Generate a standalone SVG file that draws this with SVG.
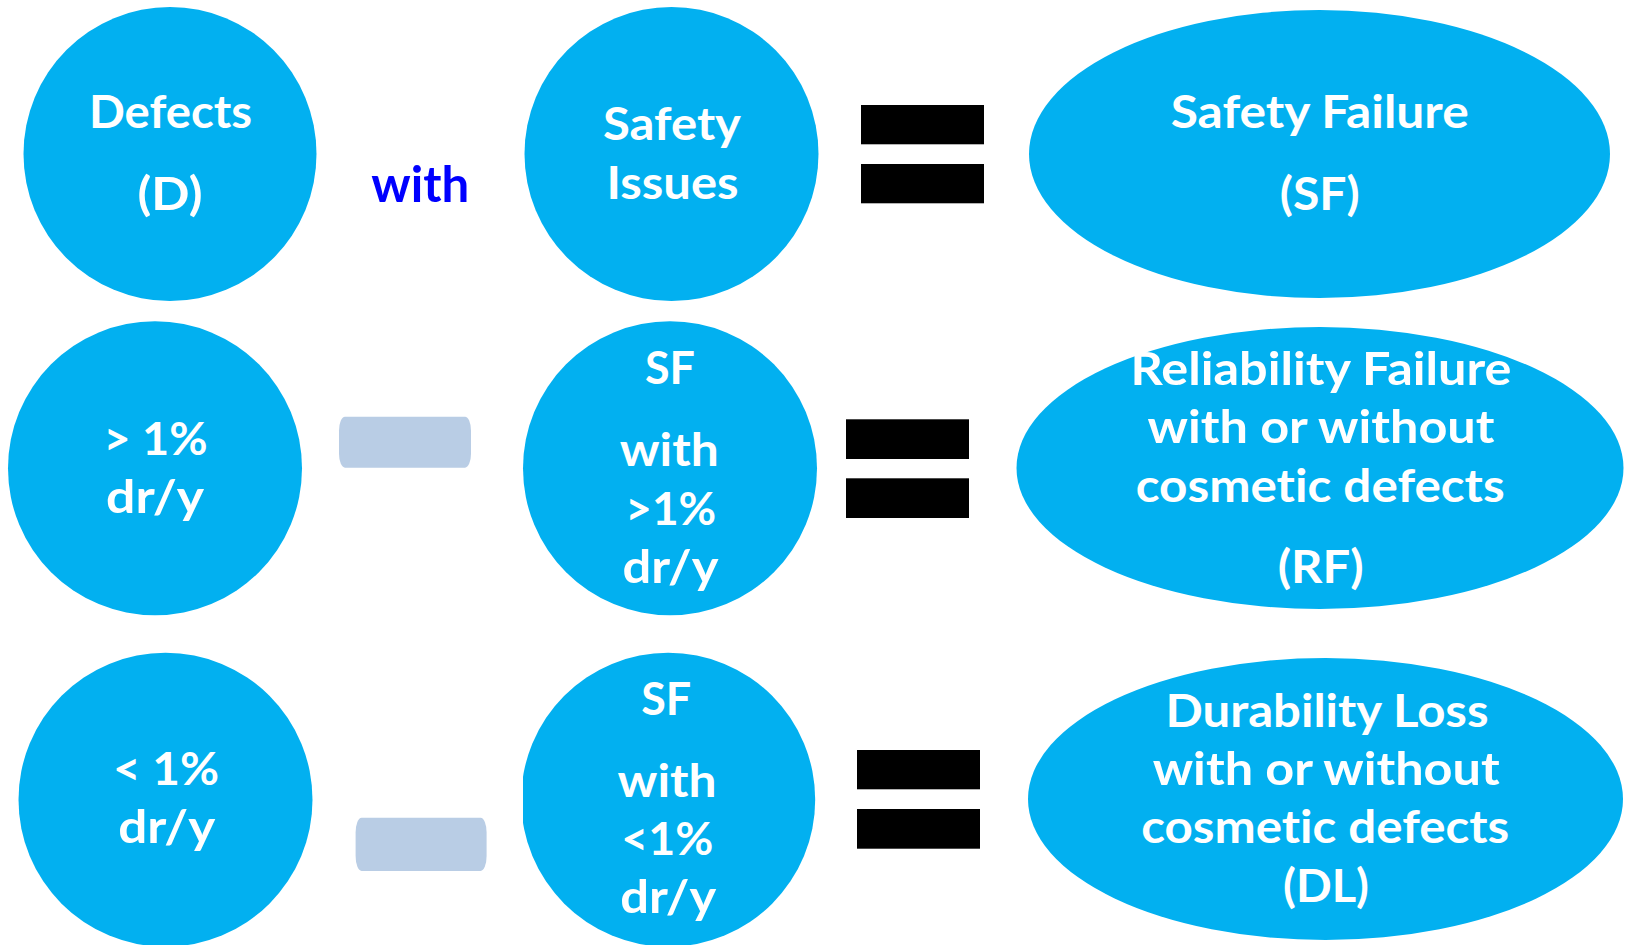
<svg xmlns="http://www.w3.org/2000/svg" width="1625" height="945" viewBox="0 0 1625 945">
  <style>
    .node { fill: #02B0F0; }
    .lbl { font-family: Lato, "Open Sans", "Liberation Sans", sans-serif; font-weight: bold; font-size: 46px; fill: #FFFFFF; text-anchor: middle; font-variant-ligatures: none; font-feature-settings: "liga" 0, "clig" 0, "dlig" 0; }
    .op { font-family: Lato, "Open Sans", "Liberation Sans", sans-serif; font-weight: bold; font-size: 49px; fill: #0000FF; text-anchor: middle; font-variant-ligatures: none; font-feature-settings: "liga" 0, "clig" 0, "dlig" 0; }
    .eq { fill: #000000; }
    .minus { fill: #B9CDE5; }
  </style>
  <defs>
    <clipPath id="clipRight">
      <rect x="523" y="0" width="400" height="945"/>
    </clipPath>
  </defs>
  <rect width="1625" height="945" fill="#FFFFFF"/>

  <!-- Row 1 -->
  <g id="defects">
    <ellipse class="node" cx="170" cy="154" rx="146.5" ry="147"/>
    <text class="lbl" x="170.5" y="128" textLength="163" lengthAdjust="spacingAndGlyphs">Defects</text>
    <text class="lbl" x="170" y="210" textLength="65" lengthAdjust="spacingAndGlyphs">(D)</text>
  </g>
  <g id="safety-issues">
    <ellipse class="node" cx="671.5" cy="154" rx="147" ry="147"/>
    <text class="lbl" x="672" y="140" textLength="138" lengthAdjust="spacingAndGlyphs">Safety</text>
    <text class="lbl" x="672.5" y="199" textLength="132" lengthAdjust="spacingAndGlyphs">Issues</text>
  </g>
  <g id="safety-failure">
    <ellipse class="node" cx="1319.5" cy="154" rx="290.5" ry="144"/>
    <text class="lbl" x="1319.7" y="128.3" textLength="298" lengthAdjust="spacingAndGlyphs">Safety Failure</text>
    <text class="lbl" x="1319.7" y="210" textLength="80" lengthAdjust="spacingAndGlyphs">(SF)</text>
  </g>

  <!-- Row 2 -->
  <g id="above-1pct">
    <ellipse class="node" cx="155" cy="468.3" rx="147" ry="147"/>
    <text class="lbl" x="155.6" y="455" textLength="104" lengthAdjust="spacingAndGlyphs">&gt; 1%</text>
    <text class="lbl" x="155.1" y="513.3" textLength="98" lengthAdjust="spacingAndGlyphs">dr/y</text>
  </g>
  <g id="sf-above-1pct">
    <ellipse class="node" cx="670" cy="468.3" rx="147" ry="147"/>
    <text class="lbl" x="670" y="384" textLength="50" lengthAdjust="spacingAndGlyphs">SF</text>
    <text class="lbl" x="669.2" y="466" textLength="99" lengthAdjust="spacingAndGlyphs">with</text>
    <text class="lbl" x="670.8" y="525" textLength="91" lengthAdjust="spacingAndGlyphs">&gt;1%</text>
    <text class="lbl" x="670.5" y="583.3" textLength="96" lengthAdjust="spacingAndGlyphs">dr/y</text>
  </g>
  <g id="reliability-failure">
    <ellipse class="node" cx="1320" cy="468" rx="303.5" ry="141"/>
    <text class="lbl" x="1321" y="385" textLength="381" lengthAdjust="spacingAndGlyphs">Reliability Failure</text>
    <text class="lbl" x="1321" y="443.3" textLength="347" lengthAdjust="spacingAndGlyphs">with or without</text>
    <text class="lbl" x="1320.2" y="501.7" textLength="369" lengthAdjust="spacingAndGlyphs">cosmetic defects</text>
    <text class="lbl" x="1320.7" y="583.3" textLength="86" lengthAdjust="spacingAndGlyphs">(RF)</text>
  </g>

  <!-- Row 3 -->
  <g id="below-1pct">
    <ellipse class="node" cx="165.5" cy="799.7" rx="147" ry="147"/>
    <text class="lbl" x="166" y="785" textLength="106" lengthAdjust="spacingAndGlyphs">&lt; 1%</text>
    <text class="lbl" x="166.7" y="843.3" textLength="97" lengthAdjust="spacingAndGlyphs">dr/y</text>
  </g>
  <g id="sf-below-1pct">
    <ellipse class="node" cx="668.2" cy="799.7" rx="147" ry="147" clip-path="url(#clipRight)"/>
    <text class="lbl" x="666.2" y="715" textLength="50" lengthAdjust="spacingAndGlyphs">SF</text>
    <text class="lbl" x="667.1" y="796.7" textLength="99" lengthAdjust="spacingAndGlyphs">with</text>
    <text class="lbl" x="667.3" y="855" textLength="92" lengthAdjust="spacingAndGlyphs">&lt;1%</text>
    <text class="lbl" x="668.2" y="913.3" textLength="96" lengthAdjust="spacingAndGlyphs">dr/y</text>
  </g>
  <g id="durability-loss">
    <ellipse class="node" cx="1325.5" cy="799" rx="297.5" ry="141"/>
    <text class="lbl" x="1327" y="726.7" textLength="323" lengthAdjust="spacingAndGlyphs">Durability Loss</text>
    <text class="lbl" x="1326.2" y="785" textLength="347" lengthAdjust="spacingAndGlyphs">with or without</text>
    <text class="lbl" x="1325.2" y="843.3" textLength="368" lengthAdjust="spacingAndGlyphs">cosmetic defects</text>
    <text class="lbl" x="1326" y="901.7" textLength="86" lengthAdjust="spacingAndGlyphs">(DL)</text>
  </g>

  <!-- Operators between the terms -->
  <g id="connectors">
    <text class="op" x="420.2" y="202" textLength="98" lengthAdjust="spacingAndGlyphs">with</text>
    <rect class="eq" x="861" y="105" width="123" height="39.3"/>
    <rect class="eq" x="861" y="164" width="123" height="39.3"/>

    <rect class="minus" x="339" y="416.7" width="132" height="51" rx="6" ry="14"/>
    <rect class="eq" x="846" y="419.3" width="123" height="39.7"/>
    <rect class="eq" x="846" y="478.3" width="123" height="39.7"/>

    <rect class="minus" x="355.6" y="817.7" width="131" height="53.3" rx="6" ry="15"/>
    <rect class="eq" x="857" y="750" width="123" height="39.3"/>
    <rect class="eq" x="857" y="809" width="123" height="39.7"/>
  </g>
</svg>
